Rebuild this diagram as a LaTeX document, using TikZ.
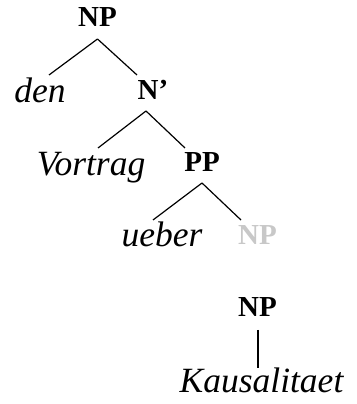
\documentclass[tikz,border=0pt]{standalone}
\usepackage{fontspec}
\setmainfont{Liberation Serif}[
  ItalicFont={Liberation Serif Italic},
  BoldFont={Liberation Serif Bold}]
\usepackage{xcolor}
\usepackage{tikz}
\usetikzlibrary{positioning,calc}
\definecolor{TreeInk}{HTML}{000000}
\definecolor{GhostGray}{HTML}{C8C8C8}

\begin{document}
\begin{tikzpicture}[x=1pt,y=1pt]
  \path[use as bounding box] (0,0) rectangle (356,404);

  \tikzset{
    synCat/.style={
      font=\fontsize{29}{30}\selectfont\bfseries,
      text=TreeInk,
      inner sep=0pt,
      anchor=base
    },
    synGhost/.style={
      synCat,
      text=GhostGray
    },
    synWord/.style={
      font=\fontsize{35.5}{37}\selectfont\itshape,
      text=TreeInk,
      inner sep=0pt,
      anchor=base
    },
    synBranch/.style={
      draw=TreeInk,
      line width=1.2pt
    }
  }

  \node[synCat] (npTop) at (97.5,377) {NP};
  \node[synWord] (den) at (40,301) {den};
  \node[synCat] (nBar) at (153,304) {N’};
  \node[synWord] (vortrag) at (91,228) {Vortrag};
  \node[synCat] (pp) at (202,232) {PP};
  \node[synWord] (ueber) at (162,157) {ueber};
  \node[synGhost] (npGhost) at (257.5,159) {NP};
  \node[synCat] (npLow) at (257.5,87) {NP};
  \node[synWord] (kausal) at (261.5,11) {Kausalitaet};

  % Aeste: vom Mutterknoten zu den Toechtern
  \draw[synBranch] ([yshift=-12pt]npTop.base) -- ([shift={(9pt,28pt)}]den.base);
  \draw[synBranch] ([yshift=-12pt]npTop.base) -- ([shift={(-16pt,25pt)}]nBar.base);
  \draw[synBranch] ([shift={(-7pt,-11pt)}]nBar.base) -- ([shift={(7pt,28pt)}]vortrag.base);
  \draw[synBranch] ([shift={(-7pt,-11pt)}]nBar.base) -- ([shift={(-17pt,24pt)}]pp.base);
  \draw[synBranch] ([yshift=-11pt]pp.base) -- ([shift={(-9pt,27pt)}]ueber.base);
  \draw[synBranch] ([yshift=-11pt]pp.base) -- ([shift={(-16.5pt,25pt)}]npGhost.base);
  \draw[synBranch] ([shift={(0.5pt,-13pt)}]npLow.base) -- ([shift={(-3.5pt,25pt)}]kausal.base);
\end{tikzpicture}
\end{document}
